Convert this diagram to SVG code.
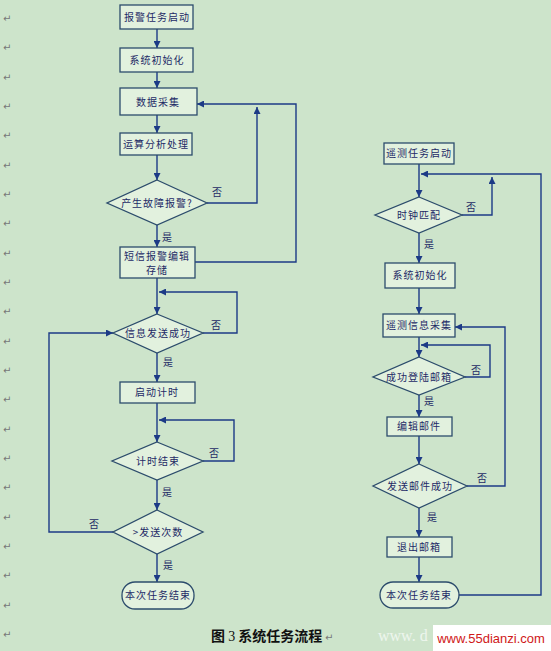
<svg xmlns="http://www.w3.org/2000/svg" width="551" height="651" viewBox="0 0 551 651">
<defs>
<marker id="ah" viewBox="0 0 10 10" refX="10" refY="5" markerWidth="7" markerHeight="7" markerUnits="userSpaceOnUse" orient="auto">
<path d="M0,0 L10,5 L0,10 z" fill="#1c3a86"/>
</marker>
<style>
.n{fill:#e2f1de;stroke:#2c4c6c;stroke-width:1.3}
.t{font-family:"Noto Sans CJK SC","Noto Sans",sans-serif;font-size:10px;fill:#1e2a66;text-anchor:middle;letter-spacing:1px}
.c{fill:none;stroke:#1c3a86;stroke-width:1.4}
.a{marker-end:url(#ah)}
.l{font-family:"Noto Sans CJK SC","Noto Sans",sans-serif;font-size:10px;fill:#1e2a66;text-anchor:middle}
.r{font-family:"DejaVu Sans",sans-serif;font-size:10px;fill:#777}
</style>
</defs>
<rect width="551" height="651" fill="#cde4cb"/>
<g id="margin">
<text class="r" x="3" y="22">↵</text><text class="r" x="3" y="51">↵</text><text class="r" x="3" y="81">↵</text><text class="r" x="3" y="110">↵</text><text class="r" x="3" y="139">↵</text><text class="r" x="3" y="169">↵</text><text class="r" x="3" y="198">↵</text><text class="r" x="3" y="227">↵</text><text class="r" x="3" y="257">↵</text><text class="r" x="3" y="286">↵</text><text class="r" x="3" y="315">↵</text><text class="r" x="3" y="345">↵</text><text class="r" x="3" y="374">↵</text><text class="r" x="3" y="403">↵</text><text class="r" x="3" y="433">↵</text><text class="r" x="3" y="462">↵</text><text class="r" x="3" y="491">↵</text><text class="r" x="3" y="521">↵</text><text class="r" x="3" y="550">↵</text><text class="r" x="3" y="579">↵</text><text class="r" x="3" y="609">↵</text><text class="r" x="3" y="638">↵</text>
</g>
<g id="connectors">
<path class="c a" d="M157,29 V48"/>
<path class="c a" d="M157,72 V88"/>
<path class="c a" d="M157,115 V133"/>
<path class="c a" d="M157,155 V180"/>
<path class="c a" d="M157,225 V247"/>
<path class="c a" d="M207,203 H257 V107"/>
<path class="c a" d="M195,262 H296 V104 H197"/>
<path class="c a" d="M157,278 V314"/>
<path class="c a" d="M203,333 H237 V292 H159"/>
<path class="c a" d="M157,353 V382"/>
<path class="c a" d="M157,403 V442"/>
<path class="c a" d="M203,461 H234 V420 H159"/>
<path class="c a" d="M157,480 V510"/>
<path class="c a" d="M113,532 H49 V333 H113"/>
<path class="c a" d="M157,554 V582"/>
<path class="c a" d="M419,164 V197"/>
<path class="c a" d="M462,215 H492 V177"/>
<path class="c a" d="M419,233 V263"/>
<path class="c a" d="M419,288 V314"/>
<path class="c a" d="M419,337 V357"/>
<path class="c a" d="M465,377 H490 V345 H421"/>
<path class="c a" d="M419,395 V417"/>
<path class="c a" d="M419,436 V464"/>
<path class="c a" d="M467,486 H505 V327 H455"/>
<path class="c a" d="M419,508 V537"/>
<path class="c a" d="M419,557 V582"/>
<path class="c a" d="M459,595 H541 V174 H421"/>
<text class="l" x="217" y="196">否</text>
<text class="l" x="167" y="241">是</text>
<text class="l" x="216" y="329">否</text>
<text class="l" x="168" y="366">是</text>
<text class="l" x="214" y="457">否</text>
<text class="l" x="167" y="496">是</text>
<text class="l" x="94" y="528">否</text>
<text class="l" x="168" y="569">是</text>
<text class="l" x="471" y="211">否</text>
<text class="l" x="429" y="248">是</text>
<text class="l" x="476" y="374">否</text>
<text class="l" x="429" y="405">是</text>
<text class="l" x="482" y="482">否</text>
<text class="l" x="432" y="521">是</text>
</g>
<g id="n1"><rect class="n" x="120" y="5" width="73" height="24"/><text class="t" x="157" y="21">报警任务启动</text></g>
<g id="n2"><rect class="n" x="120" y="48" width="73" height="24"/><text class="t" x="157" y="64">系统初始化</text></g>
<g id="n3"><rect class="n" x="120" y="88" width="77" height="27"/><text class="t" x="158" y="106">数据采集</text></g>
<g id="n4"><rect class="n" x="120" y="133" width="72" height="22"/><text class="t" x="156" y="148">运算分析处理</text></g>
<g id="n5"><path class="n" d="M157,180 L207,203 L157,225 L107,203 Z"/><text class="t" x="157" y="207">产生故障报警?</text></g>
<g id="n6"><rect class="n" x="120" y="247" width="75" height="31"/><text class="t" x="157" y="260">短信报警编辑</text><text class="t" x="157" y="274">存储</text></g>
<g id="n7"><path class="n" d="M157,314 L203,333 L157,353 L113,333 Z"/><text class="t" x="158" y="337">信息发送成功</text></g>
<g id="n8"><rect class="n" x="120" y="382" width="75" height="21"/><text class="t" x="157" y="396">启动计时</text></g>
<g id="n9"><path class="n" d="M157,442 L203,461 L157,480 L112,461 Z"/><text class="t" x="158" y="465">计时结束</text></g>
<g id="n10"><path class="n" d="M157,510 L203,532 L157,554 L113,532 Z"/><text class="t" x="158" y="536">&gt;发送次数</text></g>
<g id="n11"><rect class="n" x="122" y="582" width="72" height="27" rx="13" ry="13"/><text class="t" x="158" y="599">本次任务结束</text></g>
<g id="m1"><rect class="n" x="384" y="143" width="70" height="21"/><text class="t" x="419" y="157">遥测任务启动</text></g>
<g id="m2"><path class="n" d="M419,197 L462,215 L419,233 L375,215 Z"/><text class="t" x="419" y="219">时钟匹配</text></g>
<g id="m3"><rect class="n" x="385" y="263" width="70" height="25"/><text class="t" x="420" y="279">系统初始化</text></g>
<g id="m4"><rect class="n" x="383" y="314" width="72" height="23"/><text class="t" x="419" y="329">遥测信息采集</text></g>
<g id="m5"><path class="n" d="M419,357 L465,377 L419,395 L373,377 Z"/><text class="t" x="419" y="381">成功登陆邮箱</text></g>
<g id="m6"><rect class="n" x="387" y="417" width="65" height="19"/><text class="t" x="419" y="430">编辑邮件</text></g>
<g id="m7"><path class="n" d="M419,464 L467,486 L419,508 L373,486 Z"/><text class="t" x="420" y="490">发送邮件成功</text></g>
<g id="m8"><rect class="n" x="387" y="537" width="65" height="20"/><text class="t" x="419" y="551">退出邮箱</text></g>
<g id="m9"><rect class="n" x="380" y="582" width="79" height="26" rx="13" ry="13"/><text class="t" x="419" y="599">本次任务结束</text></g>
<g id="caption">
<text x="211" y="641" font-family="'Noto Sans CJK SC',sans-serif" font-size="14" font-weight="bold" fill="#111">图 <tspan font-family="'Liberation Serif',serif" font-weight="normal">3</tspan> 系统任务流程</text>
<text x="325" y="641" font-family="'DejaVu Sans',sans-serif" font-size="10" fill="#777">↵</text>
<text x="378" y="641" font-family="'Liberation Serif',serif" font-size="16" fill="#eef6ee">www. d</text>
<rect x="433" y="625" width="118" height="26" fill="#ffffff"/>
<text x="491" y="643" font-family="'Liberation Sans',sans-serif" font-size="13" fill="#d01818" text-anchor="middle">www.55dianzi.com</text>
</g>
</svg>
